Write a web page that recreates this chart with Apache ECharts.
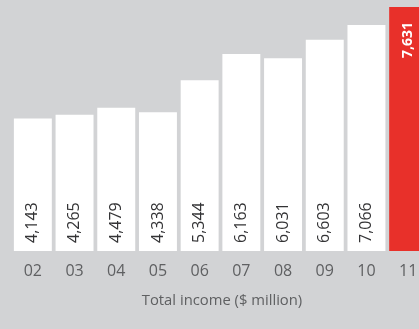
<!DOCTYPE html>
<html><head><meta charset="utf-8">
<script src="https://cdn.jsdelivr.net/npm/echarts@6/dist/echarts.min.js"></script>
<style>html,body{margin:0;padding:0;background:#d2d3d5;}#c{width:419px;height:329px;}</style>
</head><body><div id="c"></div>
<script>
const categories = ['02','03','04','05','06','07','08','09','10','11'];
const values = [4143,4265,4479,4338,5344,6163,6031,6603,7066,7631];
const axisTitle = 'Total income ($ million)';

const chart = echarts.init(document.getElementById('c'), null, {renderer:'canvas'});
const fmt = v => v.toLocaleString('en-US');
const last = values.length - 1;
chart.setOption({
  backgroundColor: '#d2d3d5',
  animation: false,
  grid: {left: 12, width: 417, top: 0, bottom: 78, containLabel: false, outerBoundsMode: 'none'},
  xAxis: {
    type: 'category', data: categories,
    axisLine: {show: false}, axisTick: {show: false},
    axisLabel: {color: '#5f6062', fontFamily: 'Open Sans', fontSize: 16, margin: 12},
    name: axisTitle, nameLocation: 'middle', nameGap: 42,
    nameTextStyle: {color: '#5f6062', fontFamily: 'Open Sans', fontSize: 14.8, padding: [0, 0, 0, 3]}
  },
  yAxis: {type: 'value', min: 0, max: 7850, show: false, splitLine: {show: false}},
  series: [{
    type: 'bar', barCategoryGap: '9%',
    data: values.map((v, i) => ({
      value: v,
      itemStyle: {color: i === last ? '#e8302a' : '#ffffff'},
      label: i === last ? {
        show: true, position: 'insideTop', rotate: 90, align: 'right', verticalAlign: 'middle',
        distance: 15, color: '#ffffff', fontWeight: 'bold', fontFamily: 'Open Sans', fontSize: 14,
        formatter: p => fmt(p.value)
      } : {
        show: true, position: 'insideBottom', rotate: 90, align: 'left', verticalAlign: 'middle',
        distance: 8, color: '#333335', fontFamily: 'Open Sans', fontSize: 16,
        formatter: p => fmt(p.value)
      }
    }))
  }]
});
</script></body></html>
